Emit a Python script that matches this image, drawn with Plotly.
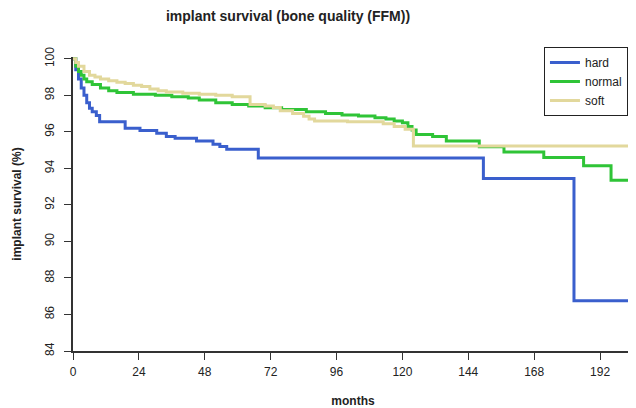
import plotly.graph_objects as go

# Kaplan-Meier steps (months, survival %)
HARD_T = [0, 1, 2, 3, 4, 5, 6, 7, 8.5, 9.7, 19, 24.4, 30.5, 34, 37.2, 45, 51, 53.5, 56, 67.5, 149.5, 182.5, 204]
HARD_S = [100, 99.4, 98.9, 98.4, 98.0, 97.6, 97.3, 97.1, 96.9, 96.56, 96.2, 96.07, 95.93, 95.74, 95.65, 95.5, 95.32, 95.2, 95.05, 94.57, 93.45, 86.75, 86.75]

NORMAL_T = [0, 1, 2, 3, 4, 5, 7, 10, 13, 16, 22, 30, 36, 42, 46, 52, 58, 64, 70, 76, 85, 92, 98, 104,
            110, 114, 117, 120, 122, 123.5, 125, 131, 136, 148, 157, 171.5, 186, 196, 204]
NORMAL_S = [100, 99.6, 99.3, 99.1, 98.9, 98.75, 98.6, 98.4, 98.25, 98.15, 98.06, 98.0, 97.93, 97.85, 97.75,
            97.6, 97.5, 97.42, 97.32, 97.22, 97.1, 97.0, 96.93, 96.87, 96.78, 96.7, 96.6, 96.5, 96.3,
            96.1, 95.85, 95.74, 95.5, 95.18, 94.9, 94.6, 94.15, 93.35, 93.35]

SOFT_T = [0, 1, 2, 4, 6, 8, 10, 13, 16, 19, 22, 25, 28, 31, 34, 40, 46, 52, 58, 64.5, 70, 73, 75.5,
          80, 84, 86, 88, 100, 113, 117, 121, 124, 204]
SOFT_S = [100, 99.8, 99.6, 99.3, 99.1, 99.0, 98.9, 98.8, 98.72, 98.65, 98.55, 98.48, 98.35, 98.25, 98.18,
          98.12, 98.06, 98.0, 97.93, 97.5, 97.42, 97.33, 97.15, 97.0, 96.85, 96.7, 96.6, 96.55, 96.45,
          96.3, 96.15, 95.22, 95.22]

X_TICKS = [0, 24, 48, 72, 96, 120, 144, 168, 192]
Y_TICKS = [84, 86, 88, 90, 92, 94, 96, 98, 100]

FONT = "Liberation Sans, Arial, sans-serif"
AXIS = "#333333"

# page body has an 8px margin, so the figure is a bit smaller than the window
W, H = 628, 400

series = [
    ("hard", HARD_T, HARD_S, "#3a5fcd"),
    ("normal", NORMAL_T, NORMAL_S, "#2fc437"),
    ("soft", SOFT_T, SOFT_S, "#e2d89c"),
]

fig = go.Figure()
for name, t, s, col in series:
    fig.add_trace(go.Scatter(
        x=t, y=s, name=name, mode="lines",
        line=dict(color=col, width=3, shape="hv"),
    ))

fig.update_layout(
    width=W, height=H,
    margin=dict(l=65, r=3, t=49, b=57, autoexpand=False),
    paper_bgcolor="white", plot_bgcolor="white",
    font=dict(family=FONT, size=12, color="#222222"),
    title=dict(text="<b>implant survival (bone quality (FFM))</b>",
               x=280 / W, xref="container", xanchor="center",
               y=1 - 8 / H, yref="container", yanchor="middle",
               font=dict(size=14, color="#222222")),
    showlegend=True,
    legend=dict(x=0.991, y=1.034, xanchor="right", yanchor="top",
                bordercolor="#222222", borderwidth=1, bgcolor="white",
                font=dict(size=12), itemwidth=30, tracegroupgap=0),
    xaxis=dict(range=[0, 204], tickvals=X_TICKS, ticks="outside", ticklen=7,
               tickcolor=AXIS, showline=True, linecolor=AXIS, linewidth=1.5,
               showgrid=False, zeroline=False, automargin=False, ticklabelstandoff=2,
               title=dict(text="<b>months</b>", standoff=18, font=dict(size=12))),
    yaxis=dict(range=[84, 100.1], tickvals=Y_TICKS, ticks="outside", ticklen=7,
               tickcolor=AXIS, showline=True, linecolor=AXIS, linewidth=1.5,
               tickangle=-90, showgrid=False, zeroline=False, automargin=False,
               ticklabelstandoff=5,
               title=dict(text="<b>implant survival (%)</b>", standoff=19, font=dict(size=12))),
)

fig.write_html("out.html")
